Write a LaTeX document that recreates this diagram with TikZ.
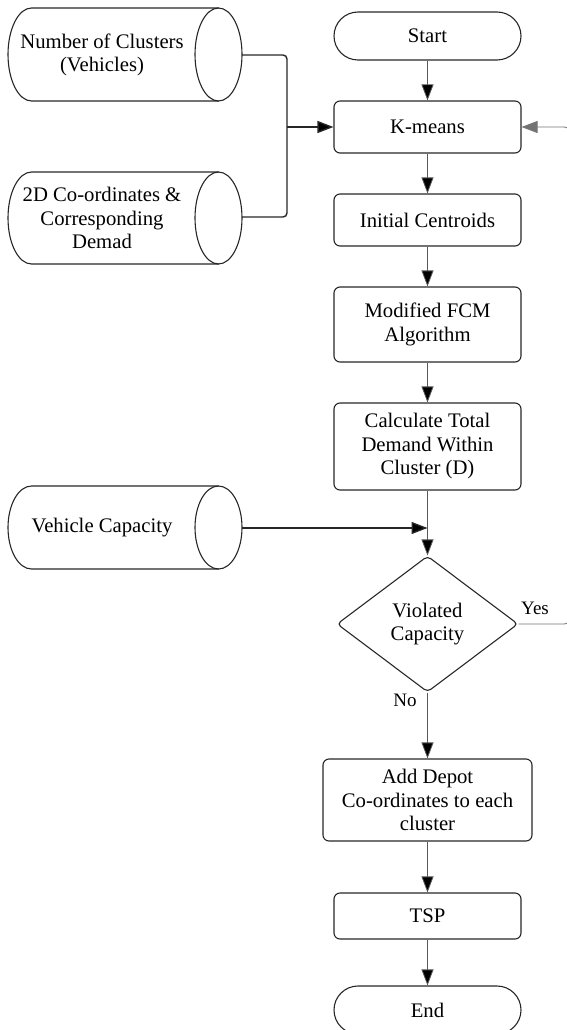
\documentclass[tikz,border=0pt]{standalone}
\usepackage{fontspec}
\setmainfont{Liberation Serif}
\usetikzlibrary{arrows.meta,shapes.geometric}
\newcommand{\drawcyl}[4]{%
  \draw[cylline] (#2,#3-#4) -- (#1,#3-#4) arc[start angle=270,end angle=90,x radius=23.5,y radius=#4] -- (#2,#3+#4);
  \draw[cylline] (#2,#3) ellipse[x radius=23.5,y radius=#4];}
\begin{document}
\begin{tikzpicture}[x=1pt,y=-1pt,
  txtfont/.style={font=\fontsize{20.7}{23.5}\selectfont},
  box/.style={draw=black!85, line width=1.1pt, rounded corners=6pt, align=center,
    minimum width=187pt, inner sep=0pt, txtfont},
  term/.style={box, rounded corners=24pt, minimum height=48pt},
  dia/.style={diamond, draw=black!85, line width=1.1pt, rounded corners=4pt, align=center,
    minimum width=181pt, minimum height=136pt, aspect=1.33, inner sep=0pt, txtfont},
  cylline/.style={draw=black!85, line width=1.1pt},
  cyltext/.style={align=center, inner sep=0pt, txtfont},
  conn/.style={draw=black!65, line width=0.8pt, -{Triangle[length=16pt,width=12pt,fill=black]}},
  strong/.style={draw=black!85, line width=1.4pt},
  strongarrow/.style={strong, -{Triangle[length=16pt,width=12pt,fill=black]}},
  loopline/.style={draw=black!55, line width=0.8pt, rounded corners=6pt,
    -{Triangle[length=16pt,width=12pt,fill=black!55]}},
  lbl/.style={inner sep=0pt, font=\fontsize{19}{22}\selectfont}
]
\useasboundingbox (0,0) rectangle (566,1030);

% flow nodes
\node[term] (start) at (427.5,36) {Start};
\node[box, minimum height=52pt] (kmeans) at (427.5,127) {K-means};
\node[box, minimum height=52pt] (init) at (427.5,220) {Initial Centroids};
\node[box, minimum height=75pt] (fcm) at (427.5,324.5) {Modified FCM\\Algorithm};
\node[box, minimum height=87pt] (calc) at (427.5,446.5) {Calculate Total\\Demand Within\\Cluster (D)};
\node[dia] (viol) at (427.5,624) {Violated\\Capacity};
\node[box, minimum width=209pt, minimum height=82pt] (depot) at (427.5,800) {Add Depot\\Co-ordinates to each\\cluster};
\node[box, minimum height=46pt] (tsp) at (427.5,916) {TSP};
\node[term] (end) at (427.5,1010) {End};

% data cylinders
\drawcyl{31.5}{218.5}{54.5}{46.5}
\node[cyltext] (ncl) at (102,55) {Number of Clusters\\(Vehicles)};
\drawcyl{31.5}{218.5}{218}{46}
\node[cyltext] (coords) at (102,218) {2D Co-ordinates \&\\Corresponding\\Demad};
\drawcyl{31.5}{218.5}{527.5}{41.5}
\node[cyltext] (vcap) at (102,528) {Vehicle Capacity};

\coordinate (c1) at (242,55);
\coordinate (c2) at (242,217);
\coordinate (c3) at (242,528);
\coordinate (j) at (287,127);
\coordinate (loopA) at (570,624);
\coordinate (loopB) at (570,127);

% connectors
\draw[strong, rounded corners=4pt] (c1) -| (j) |- (c2);
\draw[strongarrow] (j) -- (kmeans.west);
\draw[conn] (start) -- (kmeans);
\draw[conn] (kmeans) -- (init);
\draw[conn] (init) -- (fcm);
\draw[conn] (fcm) -- (calc);
\draw[conn] (calc) -- (viol.north);
\draw[strongarrow] (c3) -- (calc.south |- c3);
\draw[conn] (viol.south) -- (depot.north);
\draw[conn] (depot) -- (tsp);
\draw[conn] (tsp) -- (end);
\draw[loopline] (viol.east) -- (loopA) -- (loopB) -- (kmeans.east);

\node[lbl] (yes) at (535,608) {Yes};
\node[lbl] (no) at (405,700) {No};
\end{tikzpicture}
\end{document}
